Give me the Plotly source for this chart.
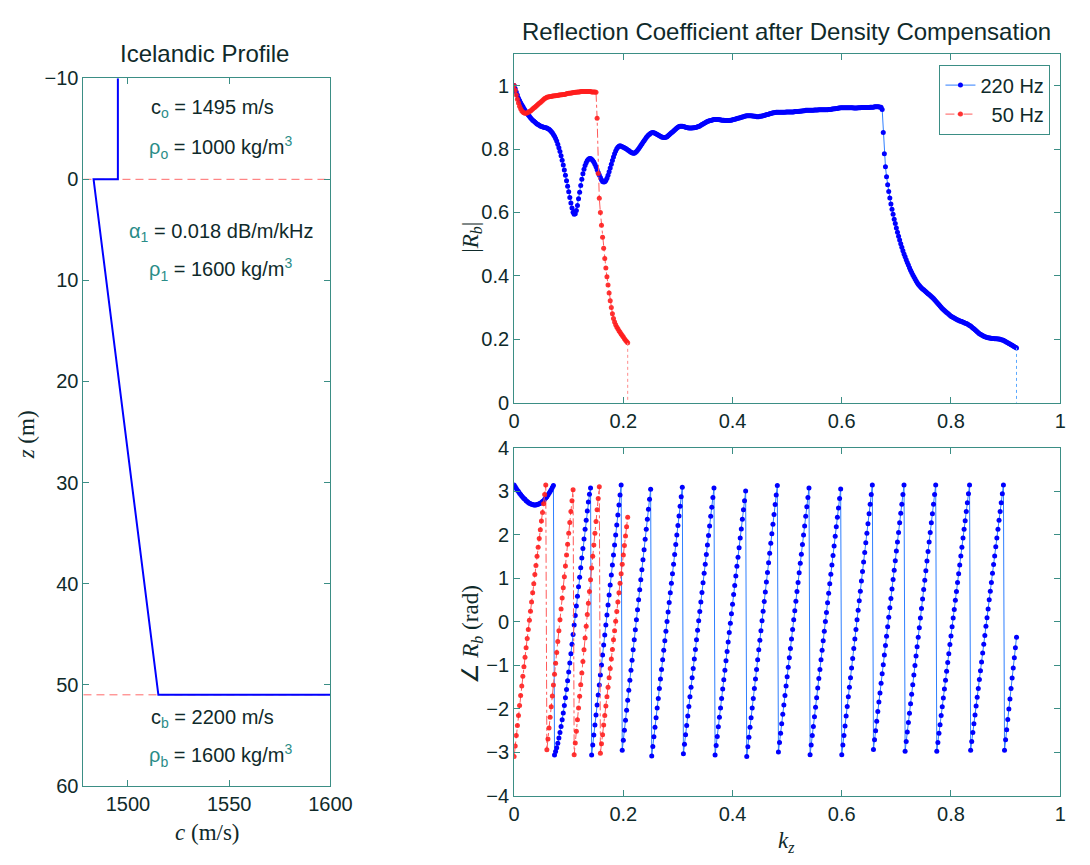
import plotly.graph_objects as go

# ---------------- data: left panel (sound-speed profile) ----------------
PROFILE_C = [1495, 1495, 1483, 1515, 2200]
PROFILE_Z = [-10, 0, 0, 51, 51]
INTERFACE_Z = [0, 51]
C_TICKS = [1500, 1550, 1600]
Z_TICKS = [-10, 0, 10, 20, 30, 40, 50, 60]

# ---------------- data: right panels (reflection coefficient) ----------------
KZ = [
    0.000, 0.002, 0.004, 0.006, 0.008, 0.010, 0.012, 0.014, 0.016, 0.018,
    0.020, 0.022, 0.024, 0.026, 0.028, 0.030, 0.032, 0.034, 0.036, 0.038,
    0.040, 0.042, 0.044, 0.046, 0.048, 0.050, 0.052, 0.054, 0.056, 0.058,
    0.060, 0.062, 0.064, 0.066, 0.068, 0.070, 0.072, 0.074, 0.076, 0.078,
    0.080, 0.082, 0.084, 0.086, 0.088, 0.090, 0.092, 0.094, 0.096, 0.098,
    0.100, 0.102, 0.104, 0.106, 0.108, 0.110, 0.112, 0.114, 0.116, 0.118,
    0.120, 0.122, 0.124, 0.126, 0.128, 0.130, 0.132, 0.134, 0.136, 0.138,
    0.140, 0.142, 0.144, 0.146, 0.148, 0.150, 0.152, 0.154, 0.156, 0.158,
    0.160, 0.162, 0.164, 0.166, 0.168, 0.170, 0.172, 0.174, 0.176, 0.178,
    0.180, 0.182, 0.184, 0.186, 0.188, 0.190, 0.192, 0.194, 0.196, 0.198,
    0.200, 0.202, 0.204, 0.206, 0.208, 0.210, 0.212, 0.214, 0.216, 0.218,
    0.220, 0.222, 0.224, 0.226, 0.228, 0.230, 0.232, 0.234, 0.236, 0.238,
    0.240, 0.242, 0.244, 0.246, 0.248, 0.250, 0.252, 0.254, 0.256, 0.258,
    0.260, 0.262, 0.264, 0.266, 0.268, 0.270, 0.272, 0.274, 0.276, 0.278,
    0.280, 0.282, 0.284, 0.286, 0.288, 0.290, 0.292, 0.294, 0.296, 0.298,
    0.300, 0.302, 0.304, 0.306, 0.308, 0.310, 0.312, 0.314, 0.316, 0.318,
    0.320, 0.322, 0.324, 0.326, 0.328, 0.330, 0.332, 0.334, 0.336, 0.338,
    0.340, 0.342, 0.344, 0.346, 0.348, 0.350, 0.352, 0.354, 0.356, 0.358,
    0.360, 0.362, 0.364, 0.366, 0.368, 0.370, 0.372, 0.374, 0.376, 0.378,
    0.380, 0.382, 0.384, 0.386, 0.388, 0.390, 0.392, 0.394, 0.396, 0.398,
    0.400, 0.402, 0.404, 0.406, 0.408, 0.410, 0.412, 0.414, 0.416, 0.418,
    0.420, 0.422, 0.424, 0.426, 0.428, 0.430, 0.432, 0.434, 0.436, 0.438,
    0.440, 0.442, 0.444, 0.446, 0.448, 0.450, 0.452, 0.454, 0.456, 0.458,
    0.460, 0.462, 0.464, 0.466, 0.468, 0.470, 0.472, 0.474, 0.476, 0.478,
    0.480, 0.482, 0.484, 0.486, 0.488, 0.490, 0.492, 0.494, 0.496, 0.498,
    0.500, 0.502, 0.504, 0.506, 0.508, 0.510, 0.512, 0.514, 0.516, 0.518,
    0.520, 0.522, 0.524, 0.526, 0.528, 0.530, 0.532, 0.534, 0.536, 0.538,
    0.540, 0.542, 0.544, 0.546, 0.548, 0.550, 0.552, 0.554, 0.556, 0.558,
    0.560, 0.562, 0.564, 0.566, 0.568, 0.570, 0.572, 0.574, 0.576, 0.578,
    0.580, 0.582, 0.584, 0.586, 0.588, 0.590, 0.592, 0.594, 0.596, 0.598,
    0.600, 0.602, 0.604, 0.606, 0.608, 0.610, 0.612, 0.614, 0.616, 0.618,
    0.620, 0.622, 0.624, 0.626, 0.628, 0.630, 0.632, 0.634, 0.636, 0.638,
    0.640, 0.642, 0.644, 0.646, 0.648, 0.650, 0.652, 0.654, 0.656, 0.658,
    0.660, 0.662, 0.664, 0.666, 0.668, 0.670, 0.672, 0.674, 0.676, 0.678,
    0.680, 0.682, 0.684, 0.686, 0.688, 0.690, 0.692, 0.694, 0.696, 0.698,
    0.700, 0.702, 0.704, 0.706, 0.708, 0.710, 0.712, 0.714, 0.716, 0.718,
    0.720, 0.722, 0.724, 0.726, 0.728, 0.730, 0.732, 0.734, 0.736, 0.738,
    0.740, 0.742, 0.744, 0.746, 0.748, 0.750, 0.752, 0.754, 0.756, 0.758,
    0.760, 0.762, 0.764, 0.766, 0.768, 0.770, 0.772, 0.774, 0.776, 0.778,
    0.780, 0.782, 0.784, 0.786, 0.788, 0.790, 0.792, 0.794, 0.796, 0.798,
    0.800, 0.802, 0.804, 0.806, 0.808, 0.810, 0.812, 0.814, 0.816, 0.818,
    0.820, 0.822, 0.824, 0.826, 0.828, 0.830, 0.832, 0.834, 0.836, 0.838,
    0.840, 0.842, 0.844, 0.846, 0.848, 0.850, 0.852, 0.854, 0.856, 0.858,
    0.860, 0.862, 0.864, 0.866, 0.868, 0.870, 0.872, 0.874, 0.876, 0.878,
    0.880, 0.882, 0.884, 0.886, 0.888, 0.890, 0.892, 0.894, 0.896, 0.898,
    0.900, 0.902, 0.904, 0.906, 0.908, 0.910, 0.912, 0.914, 0.916, 0.918,
    0.920,
]

# |R_b| at 220 Hz (one value per KZ entry)
MAG_220 = [
    1.000, 0.990, 0.980, 0.970, 0.960, 0.953, 0.946, 0.940, 0.934, 0.928,
    0.922, 0.917, 0.912, 0.907, 0.903, 0.899, 0.895, 0.891, 0.888, 0.885,
    0.882, 0.879, 0.877, 0.875, 0.873, 0.871, 0.870, 0.869, 0.868, 0.867,
    0.866, 0.864, 0.862, 0.859, 0.855, 0.851, 0.846, 0.840, 0.833, 0.825,
    0.815, 0.804, 0.792, 0.779, 0.765, 0.750, 0.734, 0.717, 0.700, 0.683,
    0.665, 0.647, 0.630, 0.614, 0.601, 0.594, 0.596, 0.606, 0.622, 0.643,
    0.664, 0.685, 0.705, 0.722, 0.736, 0.748, 0.757, 0.764, 0.768, 0.770,
    0.770, 0.768, 0.764, 0.759, 0.752, 0.744, 0.735, 0.726, 0.718, 0.710,
    0.703, 0.698, 0.696, 0.697, 0.701, 0.708, 0.717, 0.728, 0.740, 0.752,
    0.764, 0.775, 0.785, 0.794, 0.801, 0.806, 0.809, 0.810, 0.809, 0.807,
    0.806, 0.804, 0.802, 0.800, 0.797, 0.795, 0.792, 0.790, 0.788, 0.787,
    0.787, 0.789, 0.792, 0.796, 0.801, 0.806, 0.811, 0.816, 0.821, 0.826,
    0.831, 0.836, 0.840, 0.844, 0.847, 0.850, 0.851, 0.852, 0.851, 0.850,
    0.848, 0.846, 0.844, 0.842, 0.840, 0.838, 0.837, 0.836, 0.836, 0.837,
    0.839, 0.842, 0.845, 0.848, 0.851, 0.854, 0.857, 0.860, 0.863, 0.866,
    0.869, 0.871, 0.872, 0.872, 0.872, 0.871, 0.870, 0.869, 0.868, 0.867,
    0.866, 0.866, 0.866, 0.866, 0.867, 0.867, 0.868, 0.869, 0.870, 0.871,
    0.873, 0.875, 0.877, 0.879, 0.881, 0.883, 0.885, 0.887, 0.888, 0.889,
    0.890, 0.891, 0.892, 0.893, 0.893, 0.893, 0.893, 0.893, 0.892, 0.892,
    0.891, 0.891, 0.891, 0.890, 0.890, 0.890, 0.890, 0.890, 0.891, 0.891,
    0.892, 0.893, 0.894, 0.895, 0.896, 0.897, 0.898, 0.899, 0.900, 0.901,
    0.902, 0.903, 0.904, 0.905, 0.905, 0.905, 0.905, 0.905, 0.904, 0.904,
    0.903, 0.903, 0.902, 0.902, 0.902, 0.903, 0.903, 0.904, 0.905, 0.906,
    0.907, 0.908, 0.909, 0.910, 0.911, 0.912, 0.913, 0.914, 0.914, 0.915,
    0.916, 0.916, 0.916, 0.916, 0.916, 0.916, 0.916, 0.916, 0.916, 0.917,
    0.917, 0.917, 0.917, 0.917, 0.917, 0.917, 0.917, 0.918, 0.918, 0.918,
    0.918, 0.919, 0.919, 0.920, 0.920, 0.921, 0.921, 0.922, 0.922, 0.922,
    0.922, 0.922, 0.922, 0.922, 0.922, 0.923, 0.923, 0.923, 0.923, 0.924,
    0.924, 0.924, 0.924, 0.924, 0.924, 0.924, 0.924, 0.924, 0.925, 0.925,
    0.925, 0.926, 0.926, 0.927, 0.927, 0.928, 0.928, 0.929, 0.929, 0.930,
    0.930, 0.930, 0.930, 0.930, 0.930, 0.930, 0.930, 0.930, 0.930, 0.930,
    0.930, 0.929, 0.929, 0.929, 0.929, 0.930, 0.930, 0.930, 0.931, 0.931,
    0.931, 0.931, 0.931, 0.931, 0.931, 0.931, 0.932, 0.932, 0.932, 0.932,
    0.933, 0.933, 0.933, 0.933, 0.933, 0.932, 0.932, 0.925, 0.852, 0.785,
    0.744, 0.713, 0.687, 0.666, 0.646, 0.627, 0.610, 0.594, 0.579, 0.565,
    0.551, 0.538, 0.525, 0.513, 0.501, 0.490, 0.479, 0.469, 0.460, 0.451,
    0.442, 0.434, 0.426, 0.418, 0.411, 0.404, 0.397, 0.391, 0.385, 0.379,
    0.374, 0.370, 0.366, 0.362, 0.359, 0.356, 0.353, 0.350, 0.347, 0.344,
    0.341, 0.338, 0.335, 0.332, 0.329, 0.325, 0.321, 0.317, 0.313, 0.309,
    0.305, 0.301, 0.297, 0.294, 0.291, 0.288, 0.285, 0.282, 0.279, 0.276,
    0.273, 0.271, 0.269, 0.267, 0.265, 0.263, 0.261, 0.260, 0.258, 0.257,
    0.256, 0.254, 0.253, 0.251, 0.250, 0.248, 0.246, 0.244, 0.242, 0.239,
    0.236, 0.233, 0.230, 0.227, 0.224, 0.221, 0.218, 0.216, 0.214, 0.212,
    0.210, 0.208, 0.207, 0.206, 0.205, 0.204, 0.204, 0.203, 0.203, 0.203,
    0.202, 0.202, 0.202, 0.201, 0.201, 0.200, 0.199, 0.198, 0.197, 0.195,
    0.193, 0.191, 0.189, 0.187, 0.185, 0.183, 0.181, 0.179, 0.177, 0.175,
    0.173,
]

# phase of R_b at 220 Hz (rad), one value per KZ entry
PHASE_220 = [
    3.14, 3.10, 3.06, 3.02, 2.99, 2.95, 2.92, 2.89, 2.86, 2.83, 2.81, 2.78, 2.76,
    2.74, 2.72, 2.71, 2.70, 2.69, 2.68, 2.68, 2.68, 2.69, 2.70, 2.71, 2.72, 2.74,
    2.76, 2.78, 2.81, 2.84, 2.87, 2.91, 2.95, 2.99, 3.03, 3.08, 3.13,
    -3.07, -2.99, -2.90, -2.80, -2.68, -2.55, -2.41, -2.26, -2.10, -1.93, -1.75,
    -1.56, -1.36, -1.16, -0.95, -0.74, -0.52, -0.30, -0.08, 0.14, 0.36, 0.58,
    0.80, 1.02, 1.24, 1.46, 1.68, 1.90, 2.12, 2.33, 2.54, 2.75, 2.93, 3.07,
    -3.07, -2.84, -2.61, -2.38, -2.15, -1.92, -1.69, -1.46, -1.23, -1.00, -0.77,
    -0.54, -0.31, -0.08, 0.15, 0.38, 0.61, 0.84, 1.07, 1.30, 1.53, 1.76, 1.99,
    2.22, 2.45, 2.68, 2.91, 3.14,
    -2.96, -2.73, -2.50, -2.27, -2.04, -1.81, -1.58, -1.35, -1.12, -0.89, -0.65,
    -0.42, -0.19, 0.04, 0.27, 0.50, 0.73, 0.96, 1.19, 1.42, 1.65, 1.89, 2.12,
    2.35, 2.58, 2.81, 3.04,
    -3.09, -2.87, -2.65, -2.43, -2.21, -1.99, -1.77, -1.54, -1.32, -1.10, -0.88,
    -0.66, -0.44, -0.22, 0.00, 0.22, 0.44, 0.66, 0.88, 1.10, 1.32, 1.54, 1.77,
    1.99, 2.21, 2.43, 2.65, 2.87, 3.09,
    -3.04, -2.82, -2.60, -2.39, -2.17, -1.95, -1.73, -1.51, -1.29, -1.08, -0.86,
    -0.64, -0.42, -0.20, 0.02, 0.23, 0.45, 0.67, 0.89, 1.11, 1.32, 1.54, 1.76,
    1.98, 2.20, 2.42, 2.63, 2.85, 3.07,
    -3.07, -2.85, -2.64, -2.42, -2.20, -1.99, -1.77, -1.55, -1.34, -1.12, -0.90,
    -0.69, -0.47, -0.25, -0.04, 0.18, 0.40, 0.62, 0.83, 1.05, 1.27, 1.48, 1.70,
    1.92, 2.13, 2.35, 2.57, 2.78, 3.00,
    -3.10, -2.88, -2.66, -2.43, -2.21, -1.99, -1.77, -1.54, -1.32, -1.10, -0.88,
    -0.65, -0.43, -0.21, 0.02, 0.24, 0.46, 0.68, 0.91, 1.13, 1.35, 1.57, 1.80,
    2.02, 2.24, 2.46, 2.69, 2.91, 3.13,
    -3.00, -2.78, -2.57, -2.35, -2.13, -1.92, -1.70, -1.48, -1.27, -1.05, -0.83,
    -0.62, -0.40, -0.18, 0.04, 0.25, 0.47, 0.69, 0.90, 1.12, 1.34, 1.55, 1.77,
    1.99, 2.20, 2.42, 2.64, 2.85, 3.07,
    -3.06, -2.84, -2.62, -2.41, -2.19, -1.97, -1.75, -1.53, -1.31, -1.10, -0.88,
    -0.66, -0.44, -0.22, 0.00, 0.21, 0.43, 0.65, 0.87, 1.09, 1.30, 1.52, 1.74,
    1.96, 2.18, 2.40, 2.61, 2.83, 3.05,
    -3.06, -2.84, -2.62, -2.40, -2.17, -1.95, -1.73, -1.51, -1.29, -1.07, -0.85,
    -0.62, -0.40, -0.18, 0.04, 0.26, 0.48, 0.70, 0.93, 1.15, 1.37, 1.59, 1.81,
    2.03, 2.25, 2.48, 2.70, 2.92, 3.14,
    -2.94, -2.72, -2.51, -2.29, -2.07, -1.85, -1.64, -1.42, -1.20, -0.99, -0.77,
    -0.55, -0.34, -0.12, 0.10, 0.32, 0.53, 0.75, 0.97, 1.18, 1.40, 1.62, 1.83,
    2.05, 2.27, 2.49, 2.70, 2.92, 3.14,
    -2.98, -2.76, -2.54, -2.32, -2.11, -1.89, -1.67, -1.45, -1.23, -1.01, -0.79,
    -0.58, -0.36, -0.14, 0.08, 0.30, 0.52, 0.74, 0.95, 1.17, 1.39, 1.61, 1.83,
    2.05, 2.27, 2.48, 2.70, 2.92, 3.14,
    -2.98, -2.78, -2.57, -2.37, -2.16, -1.96, -1.76, -1.55, -1.35, -1.14, -0.94,
    -0.74, -0.53, -0.33, -0.12, 0.08, 0.28, 0.49, 0.69, 0.90, 1.10, 1.30, 1.51,
    1.71, 1.92, 2.12, 2.32, 2.53, 2.73, 2.94, 3.14,
    -2.96, -2.76, -2.55, -2.35, -2.15, -1.94, -1.74, -1.54, -1.33, -1.13, -0.93,
    -0.72, -0.52, -0.32, -0.11, 0.09, 0.29, 0.50, 0.70, 0.90, 1.11, 1.31, 1.51,
    1.72, 1.92, 2.12, 2.33, 2.53, 2.73, 2.94, 3.14,
    -2.96, -2.72, -2.49, -2.25, -2.01, -1.78, -1.54, -1.30, -1.07, -0.83, -0.60,
    -0.36,
]

# |R_b| at 50 Hz (first entries of KZ)
MAG_50 = [
    1.000, 0.985, 0.970, 0.957, 0.945, 0.935, 0.927, 0.921, 0.917, 0.914,
    0.913, 0.913, 0.914, 0.916, 0.918, 0.920, 0.923, 0.926, 0.929, 0.932,
    0.935, 0.938, 0.941, 0.944, 0.947, 0.950, 0.953, 0.956, 0.959, 0.961,
    0.963, 0.964, 0.965, 0.966, 0.966, 0.967, 0.967, 0.968, 0.968, 0.969,
    0.969, 0.970, 0.970, 0.971, 0.971, 0.972, 0.972, 0.973, 0.974, 0.975,
    0.976, 0.976, 0.977, 0.977, 0.978, 0.978, 0.979, 0.979, 0.980, 0.980,
    0.980, 0.981, 0.981, 0.981, 0.981, 0.981, 0.981, 0.981, 0.981, 0.981,
    0.981, 0.980, 0.980, 0.980, 0.980, 0.979, 0.897, 0.723, 0.645, 0.600,
    0.560, 0.522, 0.487, 0.455, 0.425, 0.397, 0.371, 0.346, 0.322, 0.300,
    0.281, 0.266, 0.255, 0.246, 0.239, 0.233, 0.227, 0.222, 0.217, 0.212,
    0.207, 0.202, 0.197, 0.193, 0.189,
]

# phase of R_b at 50 Hz (rad)
PHASE_50 = [
    -3.10, -2.86, -2.62, -2.39, -2.16, -1.93, -1.70, -1.48, -1.26, -1.04, -0.82,
    -0.60, -0.39, -0.18, 0.03, 0.24, 0.45, 0.66, 0.87, 1.08, 1.29, 1.50, 1.71,
    1.91, 2.11, 2.31, 2.51, 2.71, 2.92, 3.14,
    -2.95, -2.70, -2.45, -2.20, -1.96, -1.71, -1.46, -1.21, -0.96, -0.71, -0.46,
    -0.21, 0.04, 0.29, 0.54, 0.78, 1.03, 1.28, 1.53, 1.78, 2.03, 2.28, 2.53,
    2.78, 3.03,
    -3.06, -2.79, -2.52, -2.26, -1.99, -1.72, -1.45, -1.18, -0.92, -0.65, -0.38,
    -0.11, 0.16, 0.42, 0.69, 0.96, 1.23, 1.50, 1.76, 2.03, 2.30, 2.57, 2.83, 3.10,
    -3.03, -2.81, -2.60, -2.38, -2.16, -1.94, -1.73, -1.51, -1.29, -1.08, -0.86,
    -0.64, -0.42, -0.21, 0.01, 0.23, 0.45, 0.66, 0.88, 1.10, 1.32, 1.53, 1.75,
    1.97, 2.18, 2.40,
]

K_TICKS = [0, 0.2, 0.4, 0.6, 0.8, 1]
MAG_TICKS = [0, 0.2, 0.4, 0.6, 0.8, 1]
PHASE_TICKS = [-4, -3, -2, -1, 0, 1, 2, 3, 4]

assert len(KZ) == len(MAG_220) == len(PHASE_220), (len(KZ), len(MAG_220), len(PHASE_220))
assert len(MAG_50) == len(PHASE_50), (len(MAG_50), len(PHASE_50))
KZ_50 = KZ[:len(MAG_50)]

# ---------------- styling ----------------
W, H = 1090, 865
AX = "#3b8e85"
TXT = "#0f2a2a"
TEAL = "#2a8c88"
SANS = "Liberation Sans, Arial, Helvetica, sans-serif"
SERIF = "Liberation Serif, Times New Roman, serif"
BLUE_LINE = "#2f7fff"
BLUE_MK = "#0000ff"
RED_LINE = "#ff5a5a"
RED_MK = "rgba(255,30,30,0.9)"


def px(x):
    return x / W


def py(y):
    return 1 - y / H


fig = go.Figure()

# left panel
fig.add_trace(go.Scatter(x=PROFILE_C, y=PROFILE_Z, mode="lines",
                         line=dict(color=BLUE_MK, width=2),
                         xaxis="x", yaxis="y", showlegend=False))

# top right: magnitude
fig.add_trace(go.Scatter(x=KZ, y=MAG_220, mode="lines+markers", name="220 Hz",
                         line=dict(color=BLUE_LINE, width=1),
                         marker=dict(color=BLUE_MK, size=5, symbol="circle"),
                         xaxis="x2", yaxis="y2"))
fig.add_trace(go.Scatter(x=KZ_50, y=MAG_50, mode="lines+markers", name="\u00a0\u00a050 Hz",
                         line=dict(color=RED_LINE, width=1, dash="dashdot"),
                         marker=dict(color=RED_MK, size=5, symbol="circle"),
                         xaxis="x2", yaxis="y2"))
fig.add_trace(go.Scatter(x=[KZ[-1], KZ[-1]], y=[MAG_220[-1], 0], mode="lines",
                         line=dict(color="#5aa8ff", width=1, dash="dot"),
                         xaxis="x2", yaxis="y2", showlegend=False))
fig.add_trace(go.Scatter(x=[KZ_50[-1], KZ_50[-1]], y=[MAG_50[-1], 0], mode="lines",
                         line=dict(color="#ff8a8a", width=1, dash="dot"),
                         xaxis="x2", yaxis="y2", showlegend=False))

# bottom right: phase
fig.add_trace(go.Scatter(x=KZ, y=PHASE_220, mode="lines+markers",
                         line=dict(color=BLUE_LINE, width=1),
                         marker=dict(color=BLUE_MK, size=5, symbol="circle"),
                         xaxis="x3", yaxis="y3", showlegend=False))
fig.add_trace(go.Scatter(x=KZ_50, y=PHASE_50, mode="lines+markers",
                         line=dict(color=RED_LINE, width=1, dash="dashdot"),
                         marker=dict(color=RED_MK, size=5, symbol="circle"),
                         xaxis="x3", yaxis="y3", showlegend=False))

axis_common = dict(showline=True, linecolor=AX, linewidth=1, mirror="ticks",
                   ticks="inside", ticklen=6, tickcolor=AX, tickwidth=1,
                   showgrid=False, zeroline=False,
                   tickfont=dict(family=SANS, size=20, color=TXT))

X_LEFT = [px(79.5), px(333)]
Y_LEFT = [py(795), py(69)]
X_RIGHT = [px(521.5), px(1082)]
Y_TOP = [py(402), py(44)]
Y_BOT = [py(805), py(448)]

fig.update_layout(
    width=W, height=H, autosize=False,
    margin=dict(l=0, r=0, t=0, b=0, pad=0),
    paper_bgcolor="white", plot_bgcolor="white",
    xaxis=dict(domain=X_LEFT, range=[1478, 1600], tickvals=C_TICKS, anchor="y", **axis_common),
    yaxis=dict(domain=Y_LEFT, range=[60, -10], tickvals=Z_TICKS, anchor="x", **axis_common),
    xaxis2=dict(domain=X_RIGHT, range=[0, 1], tickvals=K_TICKS, anchor="y2", **axis_common),
    yaxis2=dict(domain=Y_TOP, range=[0, 1.1], tickvals=MAG_TICKS, anchor="x2", **axis_common),
    xaxis3=dict(domain=X_RIGHT, range=[0, 1], tickvals=K_TICKS, anchor="y3", **axis_common),
    yaxis3=dict(domain=Y_BOT, range=[-4, 4], tickvals=PHASE_TICKS, anchor="x3", **axis_common),
    legend=dict(x=px(1072), y=py(55), xanchor="right", yanchor="top",
                bgcolor="white", bordercolor=AX, borderwidth=1,
                font=dict(family=SANS, size=20, color=TXT),
                tracegroupgap=0, itemwidth=30),
)

# interface lines in the profile panel
for z in INTERFACE_Z:
    fig.add_shape(type="line", xref="x domain", yref="y", x0=0, x1=1, y0=z, y1=z,
                  line=dict(color="#ff6a6a", width=1, dash="8px,5px"), layer="below")


def sub(s):
    return f"<sub><span style='color:{TEAL};font-size:14px'>{s}</span></sub>"


def greek(s):
    return f"<span style='color:{TEAL};font-size:20px'>{s}</span>"


def sup(s):
    return f"<sup><span style='color:{TEAL};font-size:14px'>{s}</span></sup>"


def ital(s, size):
    return f"<span style='font-style:italic;font-size:{size}px'>{s}</span>"


labels = [
    ("c" + sub("o") + " = 1495 m/s", 147, 100),
    (greek("ρ") + sub("o") + " = 1000 kg/m" + sup("3"), 145, 140),
    (greek("α") + sub("1") + " = 0.018 dB/m/kHz", 124, 227),
    (greek("ρ") + sub("1") + " = 1600 kg/m" + sup("3"), 145, 265),
    ("c" + sub("b") + " = 2200 m/s", 147, 726),
    (greek("ρ") + sub("b") + " = 1600 kg/m" + sup("3"), 145, 764),
]
for text, x, y in labels:
    fig.add_annotation(text=text, x=px(x), y=py(y), xref="paper", yref="paper",
                       xanchor="left", yanchor="middle", showarrow=False,
                       font=dict(family=SANS, size=20, color=TXT))

# titles
fig.add_annotation(text="Icelandic Profile", x=px(204), y=py(44), xref="paper", yref="paper",
                   xanchor="center", yanchor="middle", showarrow=False,
                   font=dict(family=SANS, size=24, color=TXT))
fig.add_annotation(text="Reflection Coefficient after Density Compensation", x=px(801), y=py(21),
                   xref="paper", yref="paper", xanchor="center", yanchor="middle", showarrow=False,
                   font=dict(family=SANS, size=24, color=TXT))

# axis titles
axis_titles = [
    (ital("c", 23) + " (m/s)", 207, 843, 0),
    (ital("z", 23) + " (m)", 22, 435, -90),
    ("|" + ital("R", 23) + "<sub>" + ital("b", 16) + "</sub>|", 478, 232, -90),
    ("∠ " + ital("R", 23) + "<sub>" + ital("b", 16) + "</sub> (rad)", 478, 640, -90),
    (ital("k", 23) + "<sub>" + ital("z", 16) + "</sub>", 801, 853, 0),
]
for text, x, y, ang in axis_titles:
    fig.add_annotation(text=text, x=px(x), y=py(y), xref="paper", yref="paper",
                       xanchor="center", yanchor="middle", showarrow=False, textangle=ang,
                       font=dict(family=SERIF, size=23, color=TXT))

fig.write_html("out.html")
